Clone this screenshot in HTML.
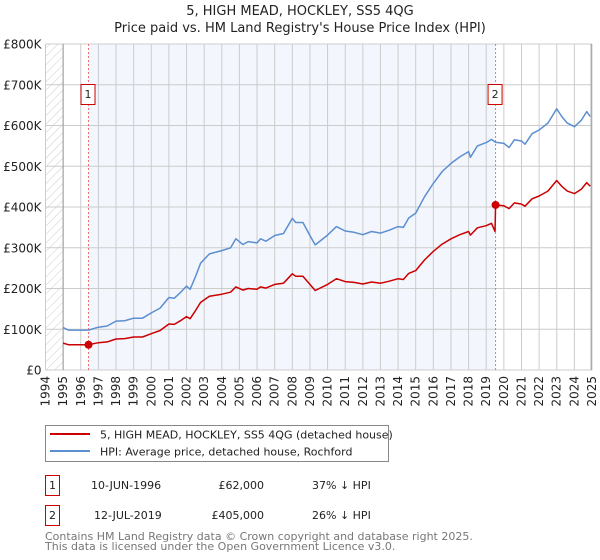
<!DOCTYPE html>
<html><head><meta charset="utf-8"><style>
body{margin:0;background:#fff;font-family:"DejaVu Sans","Liberation Sans",sans-serif;}
svg{display:block}
</style></head><body>
<svg id="chart" width="600" height="560" xmlns="http://www.w3.org/2000/svg" font-family="DejaVu Sans, Liberation Sans, sans-serif">
<defs><pattern id="hatch" width="6" height="6" patternUnits="userSpaceOnUse" patternTransform="rotate(45)"><line x1="0" y1="0" x2="0" y2="6" stroke="#ccc" stroke-width="1"/></pattern></defs>
<text x="300" y="15" text-anchor="middle" font-size="13" fill="#222">5, HIGH MEAD, HOCKLEY, SS5 4QG</text>
<text x="300" y="32" text-anchor="middle" font-size="13" fill="#222">Price paid vs. HM Land Registry's House Price Index (HPI)</text>
<g id="plot"></g>
<g>
<rect x="45.5" y="425.5" width="343" height="36" fill="#fff" stroke="#888"/>
<line x1="50" y1="434" x2="90" y2="434" stroke="#cc0000" stroke-width="2"/>
<text x="100" y="438.5" font-size="11" fill="#222">5, HIGH MEAD, HOCKLEY, SS5 4QG (detached house)</text>
<line x1="50" y1="451" x2="90" y2="451" stroke="#5b8fd0" stroke-width="2"/>
<text x="100" y="455.5" font-size="11" fill="#222">HPI: Average price, detached house, Rochford</text>
</g>
<g font-size="11" fill="#222">
<rect x="45.5" y="475.5" width="14" height="20" fill="#fff" stroke="#cc0000"/>
<text x="52.5" y="489" text-anchor="middle">1</text>
<text x="91" y="489">10-JUN-1996</text>
<text x="264" y="489" text-anchor="end">£62,000</text>
<text x="312" y="489">37% ↓ HPI</text>
<rect x="45.5" y="505.5" width="14" height="20" fill="#fff" stroke="#cc0000"/>
<text x="52.5" y="519" text-anchor="middle">2</text>
<text x="94" y="519">12-JUL-2019</text>
<text x="264" y="519" text-anchor="end">£405,000</text>
<text x="312" y="519">26% ↓ HPI</text>
</g>
<text x="45" y="540" font-size="11" fill="#777">Contains HM Land Registry data © Crown copyright and database right 2025.</text>
<text x="45" y="550" font-size="11" fill="#777">This data is licensed under the Open Government Licence v3.0.</text>
</svg>
<script>
const hpiYears=[1995.0,1995.3,1996.0,1996.44,1997.0,1997.5,1998.0,1998.5,1999.0,1999.5,2000.0,2000.5,2001.0,2001.3,2001.7,2002.0,2002.2,2002.5,2002.8,2003.3,2004.0,2004.5,2004.8,2005.2,2005.5,2006.0,2006.2,2006.5,2007.0,2007.5,2008.0,2008.2,2008.6,2009.0,2009.3,2010.0,2010.5,2011.0,2011.5,2012.0,2012.5,2013.0,2013.5,2014.0,2014.3,2014.6,2015.0,2015.5,2016.0,2016.5,2017.0,2017.5,2018.0,2018.1,2018.5,2019.0,2019.3,2019.53,2020.0,2020.3,2020.6,2021.0,2021.2,2021.6,2022.0,2022.5,2023.0,2023.3,2023.6,2024.0,2024.4,2024.7,2024.9];
const hpiValues=[104,98,98,98,105,108,120,121,127,127,140,152,178,176,192,206,198,228,262,285,293,300,322,308,315,312,322,316,330,335,372,362,362,330,307,331,352,341,338,332,340,336,343,352,350,373,385,425,458,487,507,523,536,522,550,558,566,559,556,546,565,562,554,580,589,606,641,621,606,597,613,634,622];
const priceYears=[1995.0,1995.3,1996.0,1996.44,1997.0,1997.5,1998.0,1998.5,1999.0,1999.5,2000.0,2000.5,2001.0,2001.3,2001.7,2002.0,2002.2,2002.5,2002.8,2003.3,2004.0,2004.5,2004.8,2005.2,2005.5,2006.0,2006.2,2006.5,2007.0,2007.5,2008.0,2008.2,2008.6,2009.0,2009.3,2010.0,2010.5,2011.0,2011.5,2012.0,2012.5,2013.0,2013.5,2014.0,2014.3,2014.6,2015.0,2015.5,2016.0,2016.5,2017.0,2017.5,2018.0,2018.1,2018.5,2019.0,2019.3,2019.5,2019.53,2020.0,2020.3,2020.6,2021.0,2021.2,2021.6,2022.0,2022.5,2023.0,2023.3,2023.6,2024.0,2024.4,2024.7,2024.9];
const priceValues=[66,62,62,62,67,69,76,77,81,81,89,97,113,112,122,131,126,145,166,181,186,191,204,196,200,198,204,201,210,213,236,230,230,210,195,210,224,217,215,211,216,213,218,224,222,237,244,270,291,309,322,332,340,331,349,354,360,340,405,403,396,410,407,402,420,427,439,465,450,439,433,444,460,451];
const saleYears=[1996.44,2019.53];
const saleValues=[62,405];
const saleLabels=["1","2"];
const yTicks=[0,100,200,300,400,500,600,700,800];
const yTickLabels=["£0","£100K","£200K","£300K","£400K","£500K","£600K","£700K","£800K"];
const xTicks=[1994,1995,1996,1997,1998,1999,2000,2001,2002,2003,2004,2005,2006,2007,2008,2009,2010,2011,2012,2013,2014,2015,2016,2017,2018,2019,2020,2021,2022,2023,2024,2025];

const X0=45.5,X1=592,Y0=370,Y1=44;
const xs=t=>X0+(t-1994)/(2025-1994)*(X1-X0);
const ys=v=>Y0-v/800*(Y0-Y1);
const NS="http://www.w3.org/2000/svg";
const g=document.getElementById('plot');
function mk(tag,attrs,parent){const e=document.createElementNS(NS,tag);for(const k in attrs)e.setAttribute(k,attrs[k]);(parent||g).appendChild(e);return e;}

let e;
e=mk('rect',{x:X0,y:Y1,width:X1-X0,height:Y0-Y1,fill:'#fff'});


e=mk('rect',{x:xs(1994),y:Y1,width:xs(1995)-xs(1994),height:Y0-Y1,fill:'url(#hatch)'});


e=mk('rect',{x:xs(2024.95),y:Y1,width:X1-xs(2024.95),height:Y0-Y1,fill:'url(#hatch)'});


e=mk('rect',{x:xs(saleYears[0]),y:Y1,width:xs(saleYears[1])-xs(saleYears[0]),height:Y0-Y1,fill:'#f3f6fd'});



yTicks.forEach((v,i)=>{
  const l=mk('line',{x1:X0,x2:X1,y1:ys(v),y2:ys(v),stroke:'#ccc','stroke-width':1});
  
  
  const t=mk('text',{x:X0-4,y:ys(v)+4.5,'text-anchor':'end','font-size':12,fill:'#222'});
  t.textContent=yTickLabels[i];
  
  
});
xTicks.forEach(yr=>{
  const l=mk('line',{x1:xs(yr),x2:xs(yr),y1:Y1,y2:Y0,stroke:'#ccc','stroke-width':1});
  
  
  const t=mk('text',{x:0,y:0,'text-anchor':'end','font-size':12,fill:'#222',transform:`translate(${xs(yr)+4},${Y0+6}) rotate(-90)`});
  t.textContent=yr;
  
  
});
e=mk('line',{x1:xs(1995),x2:xs(1995),y1:Y1,y2:Y0,stroke:'#999','stroke-width':1});


e=mk('line',{x1:xs(2024.95),x2:xs(2024.95),y1:Y1,y2:Y0,stroke:'#999','stroke-width':1});



saleYears.forEach((yr,i)=>{
  const l=mk('line',{x1:xs(yr),x2:xs(yr),y1:Y1,y2:Y0,stroke:'#f07070','stroke-width':1,'stroke-dasharray':'2,2'});
  
  
  const r=mk('rect',{x:xs(yr)-7.5,y:84.5,width:14,height:20,fill:'#fff',stroke:'#cc0000'});
  
  
  const t=mk('text',{x:xs(yr)-0.5,y:98,'text-anchor':'middle','font-size':11,fill:'#222'});
  t.textContent=saleLabels[i];
  
  
});

function path(years,vals){return years.map((t,i)=>(i?'L':'M')+xs(t).toFixed(1)+','+ys(vals[i]).toFixed(1)).join('');}
e=mk('path',{d:path(hpiYears,hpiValues),fill:'none',stroke:'#5b8fd0','stroke-width':1.5,'stroke-linejoin':'round'});


e=mk('path',{d:path(priceYears,priceValues),fill:'none',stroke:'#cc0000','stroke-width':1.5,'stroke-linejoin':'round'});


saleYears.forEach((yr,i)=>{
  const c=mk('circle',{cx:xs(yr),cy:ys(saleValues[i]),r:4,fill:'#cc0000'});
  
  
});
</script>
</body></html>
